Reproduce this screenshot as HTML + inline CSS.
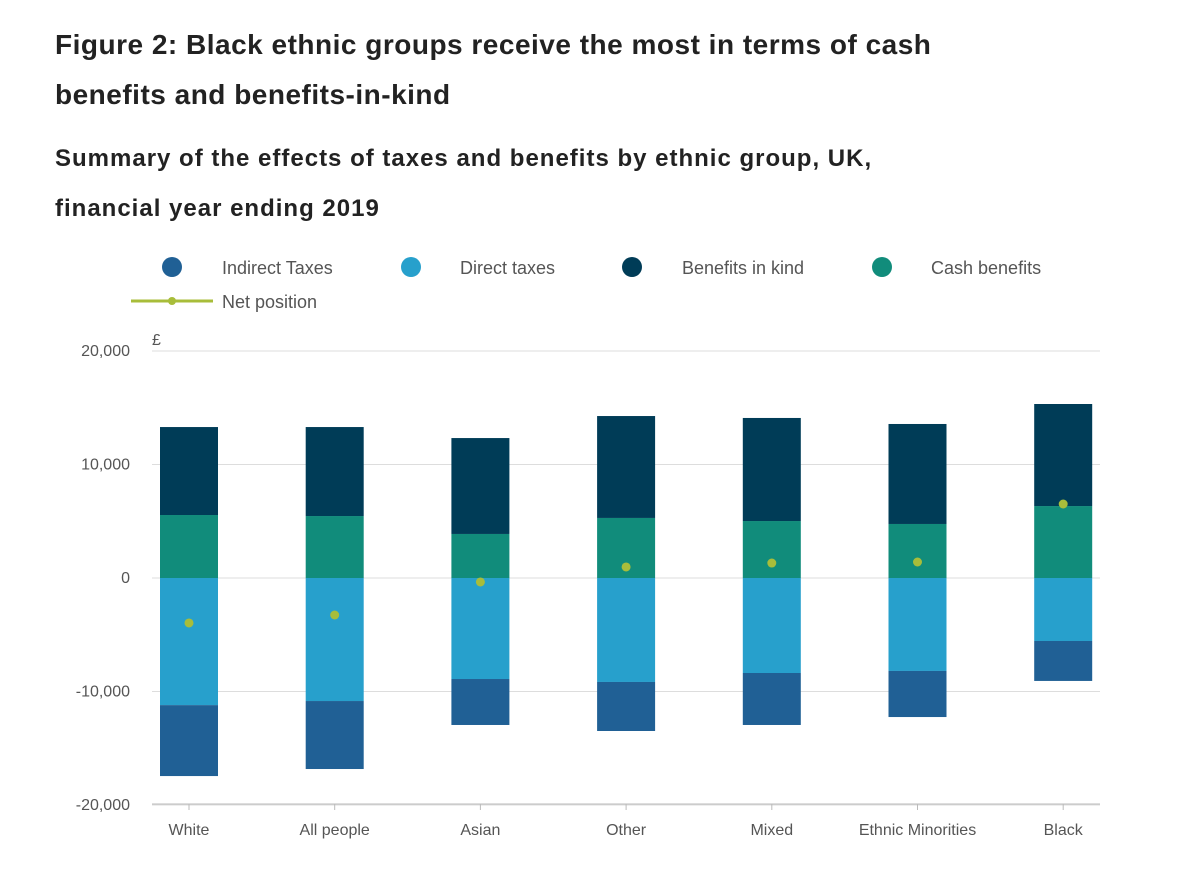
<!DOCTYPE html>
<html><head><meta charset="utf-8"><style>
body{margin:0;background:#fff;width:1200px;height:892px;overflow:hidden;font-family:"Liberation Sans",sans-serif;}
h1{position:absolute;left:55px;top:20px;margin:0;font-size:28px;letter-spacing:0.5px;line-height:50px;font-weight:bold;color:#222;width:940px;}
h2{position:absolute;left:55px;top:134px;margin:0;font-size:24px;letter-spacing:1px;line-height:50px;font-weight:bold;color:#222;width:900px;}
svg{position:absolute;left:0;top:0;}
text{font-family:"Liberation Sans",sans-serif;}
</style></head><body>
<h1>Figure 2: Black ethnic groups receive the most in terms of cash benefits and benefits-in-kind</h1>
<h2>Summary of the effects of taxes and benefits by ethnic group, UK, financial year ending 2019</h2>
<svg id="chart" width="1200" height="892"></svg>
<script>
const categories=["White","All people","Asian","Other","Mixed","Ethnic Minorities","Black"];
const indirectTaxes=[-6250,-5990,-4050,-4320,-4580,-4060,-3520];
const directTaxes=[-11200,-10840,-8900,-9160,-8370,-8190,-5550];
const benefitsInKind=[7750,7840,8450,8980,9080,8810,8990];
const cashBenefits=[5550,5460,3880,5290,5020,4760,6340];
const netPosition=[-3960,-3260,-350,970,1320,1410,6520];
const yTicks=[20000,10000,0,-10000,-20000];
const yTickLabels=["20,000","10,000","0","-10,000","-20,000"];
const NS="http://www.w3.org/2000/svg";
const svg=document.getElementById('chart');
const y=v=>578-v*0.01135;
const x=i=>189+i*145.7;
const bw=58;
function mk(t,a){const e=document.createElementNS(NS,t);for(const k in a)e.setAttribute(k,a[k]);svg.appendChild(e);return e;}
yTicks.forEach((t,i)=>{
 const g=mk('line',{x1:152,x2:1100,y1:y(t),y2:y(t),stroke:'#ddd','stroke-width':1});
 
 
 const l=mk('text',{x:130,y:y(t)+5,'text-anchor':'end','font-size':16,fill:'#555'});l.textContent=yTickLabels[i];
 
 
});
const u=mk('text',{x:152,y:345,'font-size':16,fill:'#555'});u.textContent='£';


mk('line',{x1:152,x2:1100,y1:804,y2:804,stroke:'#bbb'});
function bar(x0,v0,v1,c,name){const r=mk('rect',{x:x0,y:Math.min(y(v0),y(v1)),width:bw,height:Math.abs(y(v0)-y(v1)),fill:c});
 
 }
categories.forEach((c,i)=>{
 const x0=x(i)-bw/2;
 bar(x0,0,cashBenefits[i],'#118c7b','bar-cash-benefits');
 bar(x0,cashBenefits[i],cashBenefits[i]+benefitsInKind[i],'#003c57','bar-benefits-in-kind');
 bar(x0,0,directTaxes[i],'#27a0cc','bar-direct-taxes');
 bar(x0,directTaxes[i],directTaxes[i]+indirectTaxes[i],'#206095','bar-indirect-taxes');
 const d=mk('circle',{cx:x(i),cy:y(netPosition[i]),r:4.5,fill:'#a8bd3a'});
 
 
 const t=mk('text',{x:x(i),y:835,'text-anchor':'middle','font-size':16,fill:'#555'});t.textContent=c;
 
 
 mk('line',{x1:x(i),x2:x(i),y1:804,y2:810,stroke:'#bbb'});
});
const leg=[["Indirect Taxes","#206095",172,222],["Direct taxes","#27a0cc",411,460],["Benefits in kind","#003c57",632,682],["Cash benefits","#118c7b",882,931]];
leg.forEach(l=>{
 const c=mk('circle',{cx:l[2],cy:267,r:10,fill:l[1]});
 
 
 const t=mk('text',{x:l[3],y:274,'font-size':18,fill:'#555'});t.textContent=l[0];
 
 
});
mk('line',{x1:131,x2:213,y1:301,y2:301,stroke:'#a8bd3a','stroke-width':3});
mk('circle',{cx:172,cy:301,r:4,fill:'#a8bd3a'});
const nt=mk('text',{x:222,y:308,'font-size':18,fill:'#555'});nt.textContent='Net position';


</script>
</body></html>
